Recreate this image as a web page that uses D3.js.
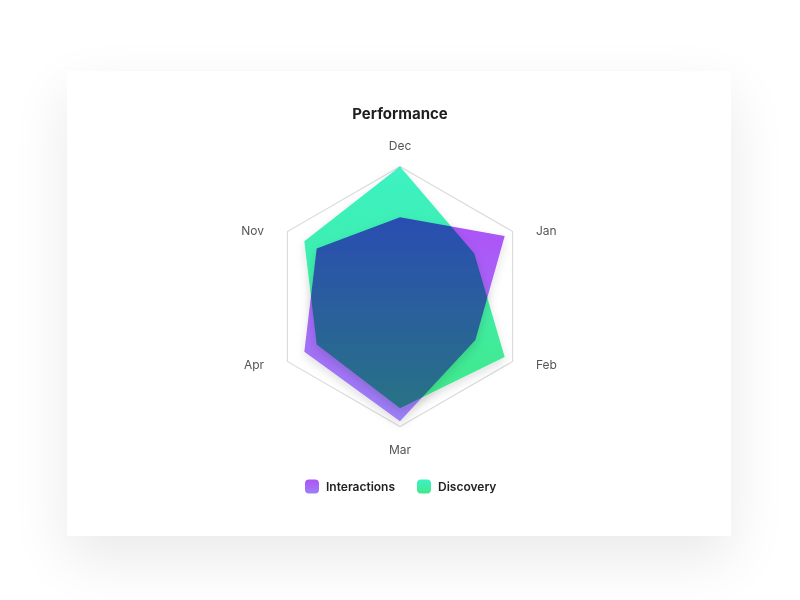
<!DOCTYPE html>
<html>
<head>
<meta charset="utf-8">
<script src="https://cdn.jsdelivr.net/npm/d3@7"></script>
<style>
  html, body { margin: 0; padding: 0; background: #fff; }
  body { width: 800px; height: 600px; position: relative; overflow: hidden; font-family: Inter, "Open Sans", sans-serif; }
  .card {
    position: absolute; left: 67px; top: 71px; width: 664px; height: 465px;
    background: #fff;
    box-shadow: 0 22px 55px rgba(0, 0, 0, 0.09);
  }
  svg { display: block; }
</style>
</head>
<body>
<div class="card"><svg id="chart"></svg></div>
<script>
// data (0-100 scale)
const months = ["Dec", "Jan", "Feb", "Mar", "Apr", "Nov"];
const interactions = [61, 93, 67, 96, 85, 74];
const discovery = [100, 66, 93, 86, 74, 85];
const seriesNames = ["Interactions", "Discovery"];

const width = 664, height = 465;
const cx = 333, cy = 225.5, radius = 130;

const svg = d3.select("#chart").attr("width", width).attr("height", height);

const defs = svg.append("defs");

function vGrad(id, top, bottom) {
  const g = defs.append("linearGradient").attr("id", id)
    .attr("x1", 0).attr("y1", 0).attr("x2", 0).attr("y2", 1);
  g.append("stop").attr("offset", "0%").attr("stop-color", top);
  g.append("stop").attr("offset", "100%").attr("stop-color", bottom);
}
vGrad("grad-purple", "#ad52f6", "#9c80f6");
vGrad("grad-green", "#3cf2c4", "#42e88a");

const shadow = defs.append("filter").attr("id", "soft-shadow")
  .attr("x", "-20%").attr("y", "-20%").attr("width", "140%").attr("height", "140%");
shadow.append("feDropShadow")
  .attr("dx", 0).attr("dy", 4).attr("stdDeviation", 5)
  .attr("flood-color", "#000").attr("flood-opacity", 0.12);

// title
svg.append("text")
  .attr("x", cx).attr("y", 48)
  .attr("text-anchor", "middle")
  .style("font-size", "15px")
  .style("font-weight", 700)
  .style("fill", "#1e1e1e")
  .text("Performance");

const angle = d3.scalePoint().domain(months).range([0, 2 * Math.PI * (months.length - 1) / months.length]);
const r = d3.scaleLinear().domain([0, 100]).range([0, radius]);

const point = (m, v) => {
  const a = angle(m);
  return [cx + r(v) * Math.sin(a), cy - r(v) * Math.cos(a)];
};

// outer hexagon grid
svg.append("polygon")
  .attr("points", months.map(m => point(m, 100).join(",")).join(" "))
  .attr("fill", "none")
  .attr("stroke", "#dcdcdc")
  .attr("stroke-width", 1.2);

const line = d3.line().curve(d3.curveLinearClosed);

svg.append("path")
  .attr("d", line(months.map((m, i) => point(m, interactions[i]))))
  .attr("fill", "url(#grad-purple)")
  .attr("filter", "url(#soft-shadow)");

svg.append("path")
  .attr("d", line(months.map((m, i) => point(m, discovery[i]))))
  .attr("fill", "url(#grad-green)")
  .attr("filter", "url(#soft-shadow)")
  .style("mix-blend-mode", "multiply");

// month labels
svg.selectAll("text.month")
  .data(months)
  .enter()
  .append("text")
  .attr("class", "month")
  .attr("x", m => {
    const s = Math.sin(angle(m));
    return Math.abs(s) < 0.1 ? cx : cx + s * 157;
  })
  .attr("y", m => {
    const c = Math.cos(angle(m));
    return cy + 1.5 - c * (Math.abs(c) > 0.9 ? 152 : 134);
  })
  .attr("dy", "0.35em")
  .attr("text-anchor", m => {
    const s = Math.sin(angle(m));
    return Math.abs(s) < 0.1 ? "middle" : (s > 0 ? "start" : "end");
  })
  .style("font-size", "12px")
  .style("fill", "#555")
  .text(m => m);

// legend
const legend = svg.append("g").attr("transform", "translate(238, 415.5)");
const legendX = d3.scaleOrdinal().domain(seriesNames).range([0, 112]);
const legendFill = d3.scaleOrdinal().domain(seriesNames).range(["url(#grad-purple)", "url(#grad-green)"]);

const item = legend.selectAll("g.item")
  .data(seriesNames)
  .enter()
  .append("g")
  .attr("class", "item")
  .attr("transform", d => `translate(${legendX(d)},0)`);

item.append("rect")
  .attr("x", 0).attr("y", -7)
  .attr("width", 14).attr("height", 14)
  .attr("rx", 4)
  .attr("fill", d => legendFill(d));

item.append("text")
  .attr("x", 21).attr("y", 0)
  .attr("dy", "0.35em")
  .style("font-size", "12px")
  .style("font-weight", 600)
  .style("fill", "#222")
  .text(d => d);
</script>
</body>
</html>
